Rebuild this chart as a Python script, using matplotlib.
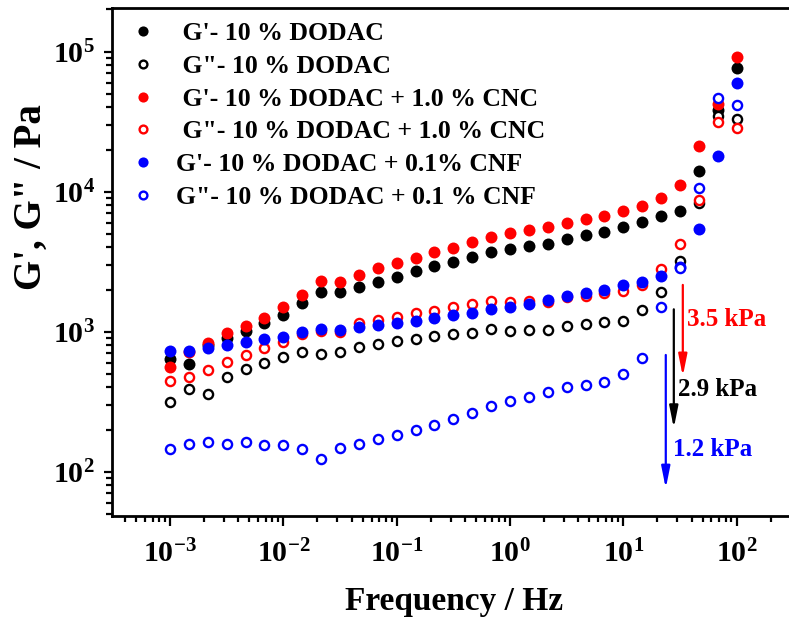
import matplotlib
matplotlib.use("Agg")
import matplotlib.pyplot as plt
import numpy as np
from matplotlib.ticker import FixedLocator, LogLocator, LogFormatterMathtext, NullFormatter

# Oscillatory frequency sweep (Hz)
freq = [0.001, 0.00147, 0.00215, 0.00316, 0.00464, 0.00681,
        0.01, 0.0147, 0.0215, 0.0316, 0.0464, 0.0681,
        0.1, 0.147, 0.215, 0.316, 0.464, 0.681,
        1.0, 1.47, 2.15, 3.16, 4.64, 6.81,
        10.0, 14.7, 21.5, 31.6, 46.4, 68.1, 100.0]

# Storage (G') and loss (G'') moduli, Pa
g1_dodac = [635, 588, 800, 897, 1012, 1159, 1316, 1595, 1931, 1922, 2096,
            2276, 2471, 2728, 2946, 3162, 3433, 3728, 3896, 4093, 4230,
            4571, 4931, 5179, 5566, 6043, 6703, 7318, 14125, 38350, 76100]
g2_dodac = [316, 390, 357, 475, 544, 594, 663, 716, 693, 716, 781,
            817, 854, 891, 931, 958, 984, 1040, 1012, 1028, 1033,
            1104, 1135, 1167, 1192, 1429, 1931, 3199, 8340, 34580, 33220]
g1_cnc = [557, 720, 834, 984, 1099, 1259, 1494, 1829, 2314, 2276, 2541,
          2838, 3081, 3378, 3728, 3981, 4393, 4772, 5093, 5325, 5566,
          6006, 6379, 6739, 7318, 7943, 9057, 11160, 21200, 42300, 91200]
g2_cnc = [447, 475, 532, 611, 678, 765, 844, 963, 1012, 1000, 1159,
          1213, 1280, 1353, 1413, 1510, 1570, 1665, 1638, 1665, 1638,
          1762, 1807, 1879, 1963, 2156, 2790, 4210, 8680, 31600, 28650]
g1_cnf = [731, 731, 761, 803, 840, 887, 921, 990, 1045, 1033, 1075,
          1117, 1148, 1199, 1246, 1316, 1353, 1445, 1510, 1577, 1675,
          1807, 1879, 1986, 2156, 2276, 2500, 2900, 5387, 17990, 59470]
g2_cnf = [145, 157, 162, 158, 162, 155, 154, 145, 123, 147, 158,
          170, 183, 199, 217, 238, 264, 296, 318, 344, 368,
          401, 416, 435, 501, 649, 1510, 2864, 10680, 46500, 41300]

labels = [" G'- 10 % DODAC",
          ' G"- 10 % DODAC',
          " G'- 10 % DODAC + 1.0 % CNC",
          ' G"- 10 % DODAC + 1.0 % CNC',
          "G'- 10 % DODAC + 0.1% CNF",
          'G"- 10 % DODAC + 0.1 % CNF']

x_major = [1e-3, 1e-2, 1e-1, 1e0, 1e1, 1e2]
y_major = [1e2, 1e3, 1e4, 1e5]

# Drop in modulus marked by arrows: (label, x, y_start, y_end, text_x, text_y)
drops = [("3.5 kPa", 33.5, 2158, 480, 36.6, 1213),
         ("2.9 kPa", 27.9, 1445, 205, 30.5, 384),
         ("1.2 kPa", 23.7, 682, 76, 27.5, 143)]
drop_colors = ["#ff0000", "#000000", "#0000ff"]

plt.rcParams["font.family"] = ["Liberation Serif", "DejaVu Serif"]
plt.rcParams["font.weight"] = "bold"
plt.rcParams["mathtext.fontset"] = "custom"
plt.rcParams["mathtext.rm"] = "Liberation Serif:bold"
plt.rcParams["mathtext.it"] = "Liberation Serif:italic:bold"
plt.rcParams["mathtext.bf"] = "Liberation Serif:bold"

fig = plt.figure(figsize=(7.89, 6.21), dpi=100)
ax = fig.add_axes([0.1416, 0.1691, 0.8667, 0.8176])

series = [(g1_dodac, "black", True), (g2_dodac, "black", False),
          (g1_cnc, "#ff0000", True), (g2_cnc, "#ff0000", False),
          (g1_cnf, "#0000ff", True), (g2_cnf, "#0000ff", False)]

for i, ((vals, col, filled), lab) in enumerate(zip(series, labels)):
    if filled:
        ax.plot(freq, vals, linestyle="none", marker="o", ms=8.6,
                mfc=col, mec=col, mew=0, label=lab, zorder=3 + i)
    else:
        ax.plot(freq, vals, linestyle="none", marker="o", ms=6.6,
                mfc="white", mec=col, mew=1.7, label=lab, zorder=3 + i)

ax.set_xscale("log")
ax.set_yscale("log")
ax.set_xlim(10 ** -3.515, 10 ** 2.52)
ax.set_ylim(48.3, 2.04e5)

for spine in ax.spines.values():
    spine.set_linewidth(2.0)

ax.xaxis.set_major_locator(FixedLocator(x_major))
ax.yaxis.set_major_locator(FixedLocator(y_major))
ax.xaxis.set_minor_locator(LogLocator(base=10, subs=np.arange(2, 10), numticks=20))
ax.yaxis.set_minor_locator(LogLocator(base=10, subs=np.arange(2, 10), numticks=20))
ax.xaxis.set_major_formatter(LogFormatterMathtext())
ax.yaxis.set_major_formatter(LogFormatterMathtext())
ax.xaxis.set_minor_formatter(NullFormatter())
ax.yaxis.set_minor_formatter(NullFormatter())

ax.tick_params(axis="both", which="both", direction="out", width=1.6,
               top=False, right=False)
ax.tick_params(axis="x", which="major", length=7, pad=10, labelsize=21.5)
ax.tick_params(axis="x", which="minor", length=4.5)
ax.tick_params(axis="y", which="major", length=6, pad=6, labelsize=21.5)
ax.tick_params(axis="y", which="minor", length=4)

ax.set_xlabel("Frequency / Hz", fontsize=24, fontweight="bold", labelpad=13)
ax.set_ylabel('G\', G" / Pa', fontsize=28, fontweight="bold")
ax.yaxis.set_label_coords(-0.09, 0.628)

for (txt, x, y0, y1, tx, ty), col in zip(drops, drop_colors):
    ax.annotate("", xy=(x, y1), xytext=(x, y0),
                arrowprops=dict(arrowstyle="-|>,head_length=0.65,head_width=0.13",
                                color=col, lw=1.6, mutation_scale=20,
                                shrinkA=0, shrinkB=0), zorder=10)
    ax.text(tx, ty, txt, color=col, fontsize=18, fontweight="bold",
            ha="left", va="center", zorder=10)

fig.legend(loc="upper left", bbox_to_anchor=(130.0 / 789, 1 - 22.0 / 621),
           frameon=False, handlelength=1.0, handletextpad=0.78,
           labelspacing=0.38, borderpad=0, borderaxespad=0, markerscale=0.85,
           prop={"weight": "bold", "size": 18.5})

fig.savefig("out.png", dpi=100)
